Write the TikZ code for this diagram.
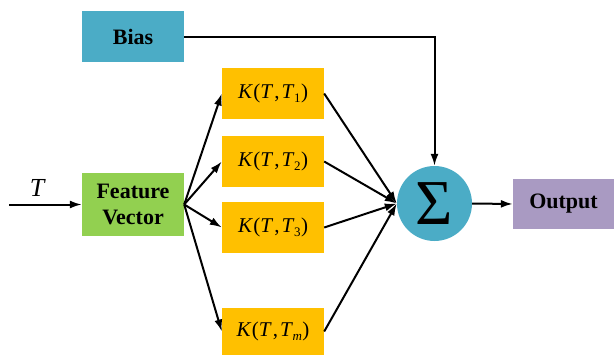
\documentclass[tikz,border=0pt]{standalone}
\usepackage{fontspec}
\setmainfont{Liberation Serif}
\usetikzlibrary{arrows.meta,positioning}
\definecolor{teal}{HTML}{4BACC6}
\definecolor{kyellow}{HTML}{FFC000}
\definecolor{fgreen}{HTML}{92D050}
\definecolor{opurple}{HTML}{A99AC2}
\newcommand{\kfun}[1]{\textit{K}\kern0.5pt(\textit{T}\kern1pt,\kern2pt\textit{T}\kern-0.5pt\raisebox{-3.5pt}{\fontsize{13}{13}\selectfont #1}\kern0.5pt)}
\tikzset{
  blk/.style={draw=none, minimum width=102pt, inner sep=0pt, font=\fontsize{22}{26}\selectfont\bfseries, align=center},
  kbox/.style={blk, fill=kyellow, minimum height=51pt, font=\fontsize{21}{22}\selectfont},
  conn/.style={line width=2pt, -{Latex[length=12pt,width=8pt]}},
}
\begin{document}
\begin{tikzpicture}[x=1pt,y=-1pt]
\useasboundingbox (0,0) rectangle (614,356);
\node[blk, fill=teal, minimum height=51pt] (bias) at (133,36.5) {Bias};
\node[blk, fill=fgreen, minimum height=63pt] (fv) at (133,204.5) {Feature\\Vector};
\node[kbox] (k1) at (273,93.5) {\kfun{1}};
\node[kbox] (k2) at (273,161.5) {\kfun{2}};
\node[kbox] (k3) at (273,227.5) {\kfun{3}};
\node[kbox, minimum height=47pt] (km) at (273,331.5) {\kfun{\textit{m}}};
\node[circle, fill=teal, minimum size=75pt, inner sep=0pt] (sum) at (434.5,203.5) {\raisebox{-2pt}{\fontsize{64}{64}\selectfont Σ}};
\node[blk, fill=opurple, minimum width=101pt, minimum height=50pt] (out) at (563.5,204) {Output};
\coordinate (tin) at (9,204.5);
\node[font=\fontsize{26}{26}\selectfont\itshape] (tlab) at (37,188) {T};
\draw[conn] (tin) -- (fv.west);
\draw[conn] (fv.east) -- (k1.west);
\draw[conn] (fv.east) -- (k2.west);
\draw[conn] (fv.east) -- (k3.west);
\draw[conn] (fv.east) -- (km.west);
\draw[conn] (k1.east) -- (sum.west);
\draw[conn] (k2.east) -- (sum.west);
\draw[conn] (k3.east) -- (sum.west);
\draw[conn] (km.east) -- (sum.west);
\draw[conn] (bias.east) -| (sum.north);
\draw[conn] (sum.east) -- (out.west);
\end{tikzpicture}
\end{document}
